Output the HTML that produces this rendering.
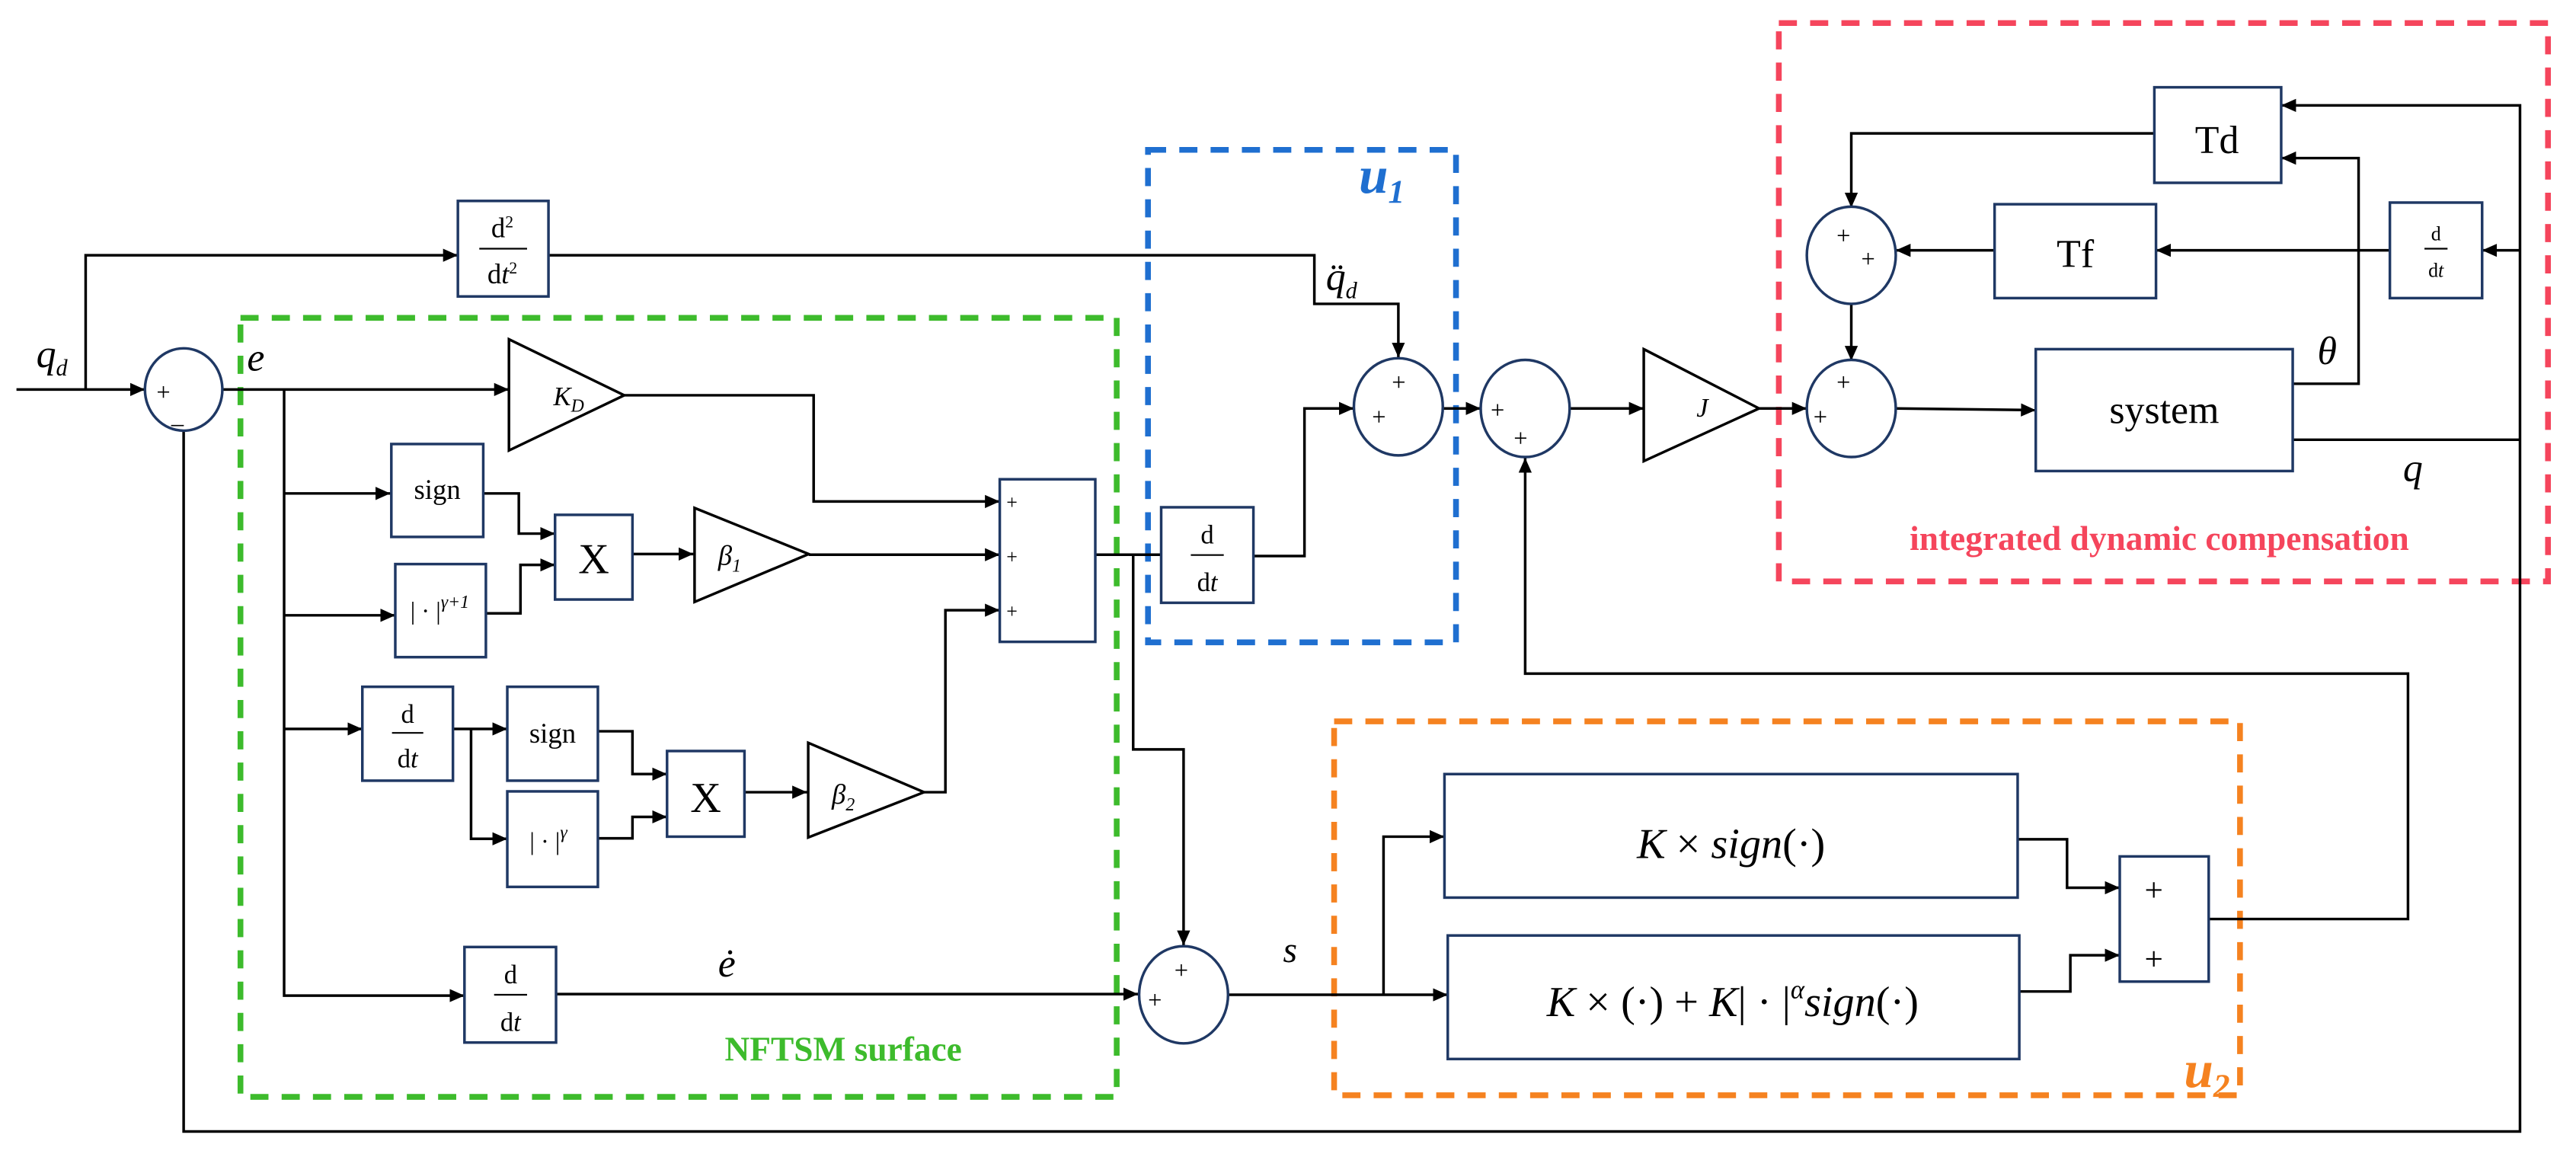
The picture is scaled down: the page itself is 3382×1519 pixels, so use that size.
<!DOCTYPE html>
<html><head><meta charset="utf-8"><style>
html,body{margin:0;padding:0;background:#fff;}
svg{display:block;}
text{font-family:"Liberation Serif",serif;}
</style></head><body>
<svg width="3382" height="1519" viewBox="0 0 1564 702.5" preserveAspectRatio="none" xmlns="http://www.w3.org/2000/svg">
<defs>
<marker id="a" markerUnits="userSpaceOnUse" markerWidth="10" markerHeight="10" refX="9" refY="5" orient="auto"><path d="M0,1 L9,5 L0,9 z" fill="#000"/></marker>
</defs>
<rect width="1564" height="702.5" fill="#fff"/>
<!-- dashed group boxes -->
<g fill="none" stroke-width="3.5" stroke-dasharray="11 8">
<rect x="146" y="193" width="532" height="473" stroke="#3dbb2c"/>
<rect x="697" y="91" width="187" height="299" stroke="#1f6fd0"/>
<rect x="1080" y="14" width="467" height="339" stroke="#f5455c"/>
<rect x="810" y="438" width="550" height="227" stroke="#f58220"/>
</g>
<g fill="none" stroke="#000" stroke-width="1.6">
<!-- input -->
<path d="M10,236.5 H88" marker-end="url(#a)"/>
<path d="M52,236.5 V155 H278" marker-end="url(#a)"/>
<path d="M333,155 H798 V184.5 H849 V217" marker-end="url(#a)"/>
<!-- e line -->
<path d="M135,236.5 H309" marker-end="url(#a)"/>
<path d="M172.5,236.5 V604.5 H282" marker-end="url(#a)"/>
<path d="M172.5,299.6 H237" marker-end="url(#a)"/>
<path d="M172.5,373.6 H240" marker-end="url(#a)"/>
<path d="M172.5,442.6 H220" marker-end="url(#a)"/>
<path d="M379,240 H494 V304.5 H607" marker-end="url(#a)"/>
<path d="M293,299.6 H315 V324 H337" marker-end="url(#a)"/>
<path d="M295,372.4 H316 V343 H337" marker-end="url(#a)"/>
<path d="M384,336.4 H421" marker-end="url(#a)"/>
<path d="M491,336.8 H607" marker-end="url(#a)"/>
<path d="M275,442.6 H308" marker-end="url(#a)"/>
<path d="M286,442.6 V509.3 H308" marker-end="url(#a)"/>
<path d="M363,444 H384 V470 H405" marker-end="url(#a)"/>
<path d="M363,509 H384 V496 H405" marker-end="url(#a)"/>
<path d="M452,481 H490" marker-end="url(#a)"/>
<path d="M561,481 H574 V370.5 H607" marker-end="url(#a)"/>
<path d="M665,336.8 H705"/>
<path d="M688,336.8 V455 H718.6 V574" marker-end="url(#a)"/>
<path d="M337.6,603.6 H691" marker-end="url(#a)"/>
<!-- u1 -->
<path d="M761,337.6 H792 V248 H822" marker-end="url(#a)"/>
<path d="M876,248 H899" marker-end="url(#a)"/>
<path d="M953,248 H998" marker-end="url(#a)"/>
<path d="M1068,248 H1097" marker-end="url(#a)"/>
<path d="M1151,248 L1236,249" marker-end="url(#a)"/>
<!-- feedback to sum3 -->
<path d="M1341,558 H1462 V409 H926 V278" marker-end="url(#a)"/>
<!-- s -->
<path d="M746,604 H879" marker-end="url(#a)"/>
<path d="M840,604 V508 H877" marker-end="url(#a)"/>
<path d="M1225,509.6 H1255 V539 H1287" marker-end="url(#a)"/>
<path d="M1226,602 H1257 V580 H1287" marker-end="url(#a)"/>
<!-- right part -->
<path d="M111.5,261 V687 H1530 V64 H1385" marker-end="url(#a)"/>
<path d="M1392,233 H1432 V96 H1385" marker-end="url(#a)"/>
<path d="M1308,81 H1124 V126" marker-end="url(#a)"/>
<path d="M1530,152 H1507" marker-end="url(#a)"/>
<path d="M1451,152 H1309" marker-end="url(#a)"/>
<path d="M1211,152 H1151" marker-end="url(#a)"/>
<path d="M1124,184.5 V219" marker-end="url(#a)"/>
<path d="M1392,267 H1530"/>
</g>
<!-- blocks -->
<g fill="#fff" stroke="#1f3864" stroke-width="1.6">
<ellipse cx="111.5" cy="236.5" rx="23.5" ry="25"/>
<ellipse cx="849" cy="247" rx="27" ry="29.5"/>
<ellipse cx="926" cy="248" rx="27" ry="29.5"/>
<ellipse cx="1124" cy="248" rx="27" ry="29.5"/>
<ellipse cx="1124" cy="155" rx="27" ry="29.5"/>
<ellipse cx="718.6" cy="604" rx="27" ry="29.5"/>
<rect x="278" y="122" width="55" height="58"/>
<rect x="237.6" y="269.6" width="55.8" height="56.4"/>
<rect x="240" y="342.5" width="55" height="56.5"/>
<rect x="337" y="312.6" width="47" height="51.4"/>
<rect x="607" y="291" width="58" height="98.7"/>
<rect x="220" y="417" width="55" height="57"/>
<rect x="308" y="417" width="55" height="57"/>
<rect x="308" y="480.5" width="55" height="58"/>
<rect x="405" y="456" width="47" height="52"/>
<rect x="282" y="575" width="55.6" height="58"/>
<rect x="705" y="308" width="56" height="58"/>
<rect x="1236" y="212" width="156" height="74"/>
<rect x="1308" y="53" width="77" height="58"/>
<rect x="1211" y="124" width="98" height="57"/>
<rect x="1451" y="123" width="56" height="58"/>
<rect x="877" y="470" width="348" height="75"/>
<rect x="879" y="568" width="347" height="75"/>
<rect x="1287" y="520" width="54" height="76"/>
</g>
<g fill="#fff" stroke="#000" stroke-width="1.6">
<path d="M309,206 L379,240 L309,273.5 z"/>
<path d="M421.7,308.4 L491,336.4 L421.7,365.5 z"/>
<path d="M490.7,451 L561,481 L490.7,508.5 z"/>
<path d="M998,212 L1068,248 L998,280 z"/>
</g>
<!-- labels -->
<g font-size="15" fill="#000">
<text x="95" y="243">+</text><text x="104" y="257">_</text>
<text x="833" y="258">+</text><text x="845" y="237">+</text>
<text x="905" y="254">+</text><text x="919" y="271">+</text>
<text x="1101" y="258">+</text><text x="1115" y="237">+</text>
<text x="1115" y="148">+</text><text x="1130" y="162">+</text>
<text x="697" y="612">+</text><text x="713" y="594">+</text>
<text x="611" y="309" font-size="12">+</text>
<text x="611" y="342" font-size="12">+</text>
<text x="611" y="375" font-size="12">+</text>
<text x="1302" y="547" font-size="20">+</text>
<text x="1302" y="589" font-size="20">+</text>
</g>
<g fill="#000" text-anchor="middle">
<text x="305" y="144" font-size="17">d<tspan font-size="10" dy="-6">2</tspan></text>
<line x1="291" y1="151" x2="320" y2="151" stroke="#000" stroke-width="1"/>
<text x="305" y="172" font-size="17">d<tspan font-style="italic">t</tspan><tspan font-size="10" dy="-6">2</tspan></text>
<text x="265.5" y="303" font-size="17">sign</text>
<text x="267" y="376" font-size="15">| · |<tspan font-style="italic" font-size="11" dy="-7">γ+1</tspan></text>
<text x="360.5" y="348" font-size="26" font-family="Liberation Sans">X</text>
<text x="428.5" y="493" font-size="26" font-family="Liberation Sans">X</text>
<text x="247.5" y="439" font-size="16">d</text>
<line x1="238" y1="445" x2="257" y2="445" stroke="#000" stroke-width="1"/>
<text x="247.5" y="466" font-size="16">d<tspan font-style="italic">t</tspan></text>
<text x="335.5" y="451" font-size="17">sign</text>
<text x="333" y="516" font-size="15">| · |<tspan font-style="italic" font-size="11" dy="-7">γ</tspan></text>
<text x="310" y="597" font-size="16">d</text>
<line x1="300" y1="604" x2="320" y2="604" stroke="#000" stroke-width="1"/>
<text x="310" y="626" font-size="16">d<tspan font-style="italic">t</tspan></text>
<text x="733" y="330" font-size="16">d</text>
<line x1="723" y1="337" x2="743" y2="337" stroke="#000" stroke-width="1"/>
<text x="733" y="359" font-size="16">d<tspan font-style="italic">t</tspan></text>
<text x="1479" y="146" font-size="12">d</text>
<line x1="1472" y1="151" x2="1486" y2="151" stroke="#000" stroke-width="1"/>
<text x="1479" y="168" font-size="12">d<tspan font-style="italic">t</tspan></text>
<text x="1346" y="93" font-size="24">Td</text>
<text x="1260" y="162" font-size="24">Tf</text>
<text x="1314" y="257" font-size="24">system</text>
<text x="1051" y="521" font-size="26" font-family="DejaVu Sans"><tspan font-style="italic">K</tspan> × <tspan font-style="italic">sign</tspan>(·)</text>
<text x="1052" y="617" font-size="26" font-family="DejaVu Sans"><tspan font-style="italic">K</tspan> × (·) + <tspan font-style="italic">K</tspan>| · |<tspan font-style="italic" font-size="16" dy="-11">α</tspan><tspan dy="11" font-style="italic">sign</tspan>(·)</text>
</g>
<g fill="#000" font-style="italic">
<text x="336" y="246" font-size="16">K<tspan font-size="11" dy="4">D</tspan></text>
<text x="436" y="343" font-size="17">β<tspan font-size="11" dy="4">1</tspan></text>
<text x="505" y="488" font-size="17">β<tspan font-size="11" dy="4">2</tspan></text>
<text x="1030" y="253" font-size="16">J</text>
<text x="22" y="223" font-size="24">q<tspan font-size="14" dy="5">d</tspan></text>
<text x="150" y="225" font-size="24">e</text>
<text x="436" y="593" font-size="24">ė</text>
<text x="779" y="584" font-size="22">s</text>
<text x="805" y="176" font-size="24">q̈<tspan font-size="14" dy="5">d</tspan></text>
<text x="1407" y="221" font-size="24">θ</text>
<text x="1459" y="292" font-size="24">q</text>
</g>
<text x="825" y="117" font-size="32" font-weight="bold" font-style="italic" fill="#1f6fd0">u<tspan font-size="20" dy="6">1</tspan></text>
<text x="1326" y="660" font-size="32" font-weight="bold" font-style="italic" fill="#f58220">u<tspan font-size="20" dy="6">2</tspan></text>
<text x="512" y="644" font-size="21" font-weight="bold" fill="#3dbb2c" text-anchor="middle">NFTSM surface</text>
<text x="1311" y="334" font-size="21" font-weight="bold" fill="#f5455c" text-anchor="middle">integrated dynamic compensation</text>
</svg>
</body></html>
